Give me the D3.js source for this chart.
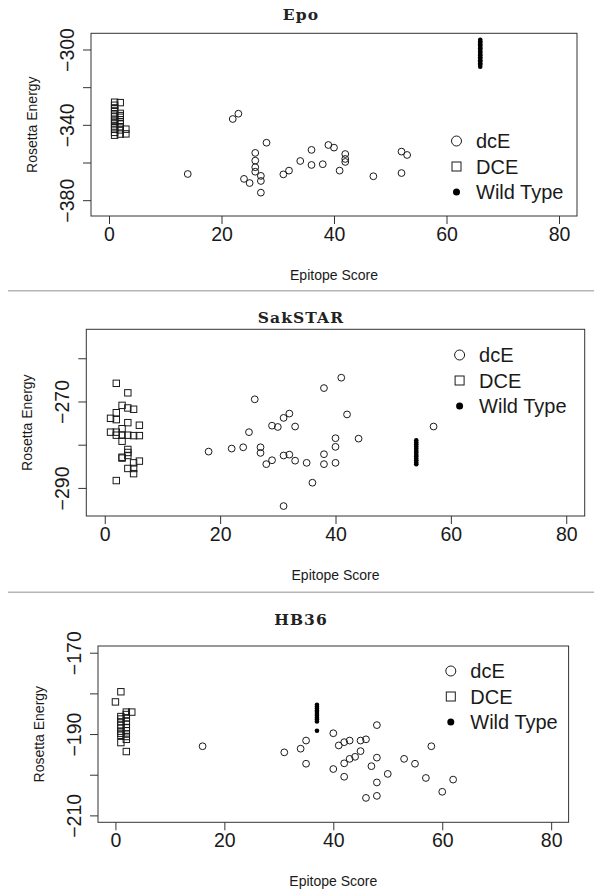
<!DOCTYPE html>
<html>
<head>
<meta charset="utf-8">
<script src="https://cdn.jsdelivr.net/npm/d3@7"></script>
<style>
  html, body { margin: 0; padding: 0; background: #fff; }
  svg { display: block; }
</style>
</head>
<body>
<svg id="chart" width="602" height="896"></svg>
<script>
// ---------------- DATA ----------------
const xTicks = [0, 20, 40, 60, 80];
const legendLabels = ["dcE", "DCE", "Wild Type"];

// Epo
const epoDcEx = [14,22,23,24,25,26,26,26,26,27,27,27,28,31,32,34,36,36,38,39,40,41,42,42,42,47,52,52,53];
const epoDcEy = [-366.1,-336.9,-334.1,-368.7,-370.9,-354.9,-359.0,-362.5,-364.9,-367.1,-369.8,-376.0,-349.5,-366.3,-364.3,-359.2,-353.3,-361.3,-360.9,-350.7,-352.1,-364.3,-355.5,-358.1,-359.7,-367.3,-354.2,-365.6,-356.0];
const epoDCEx = [1,1,1,1,1,1,1,1,1,1,1,1,1, 2,2,2,2,2,2,2,2,2, 3,3];
const epoDCEy = [-328.0,-329.6,-331.0,-332.4,-334.1,-335.4,-337.0,-338.1,-339.5,-341.1,-342.4,-344.0,-345.5, -328.2,-333.9,-335.1,-336.0,-338.3,-339.6,-341.0,-342.7,-344.9, -342.3,-344.8];
const epoWTx = [66,66,66,66,66,66,66,66,66,66,66,66,66,66,66,66,66,66,66];
const epoWTy = [-294.8,-295.7,-296.3,-297.2,-297.9,-298.7,-299.3,-300.2,-301.1,-301.7,-302.6,-303.2,-304.1,-304.8,-305.7,-306.3,-307.3,-308.0,-309.1];
const epoYTicks = [-300,-320,-340,-360,-380];
const epoYLabels = [-300,-340,-380];

// SakSTAR
const sakDcEx = [18,22,24,25,26,27,27,28,29,29,30,31,31,31,32,32,33,33,35,36,38,38,38,40,40,40,41,42,44,57];
const sakDcEy = [-281.6,-280.9,-280.6,-277.1,-269.5,-280.6,-281.9,-284.5,-275.6,-283.6,-275.9,-273.8,-282.5,-294.2,-272.8,-282.3,-275.8,-283.7,-284.2,-288.8,-266.9,-282.2,-284.5,-278.5,-280.5,-284.2,-264.5,-273.0,-278.6,-275.8];
const sakDCEx = [2,4,3,4,5,2,1,2,4,6,3,1,2,2,3,4,5,6,3,4,4,3,3,4,6,5,5,4,5,2];
const sakDCEy = [-265.8,-268.0,-270.9,-271.5,-271.8,-272.6,-273.9,-274.2,-274.9,-275.5,-276.3,-277.1,-277.1,-277.8,-277.8,-277.8,-277.9,-277.9,-279.2,-281.1,-281.8,-282.9,-283.1,-282.5,-283.8,-284.2,-285.5,-285.5,-286.7,-288.3];
const sakWTx = [54,54,54,54,54,54,54,54,54,54,54,54,54];
const sakWTy = [-279.0,-279.5,-279.9,-280.4,-280.9,-281.4,-281.8,-282.3,-282.7,-283.2,-283.6,-284.1,-284.5];
const sakYTicks = [-260,-270,-280,-290];
const sakYLabels = [-270,-290];

// HB36
const hbDcEx = [16,31,34,35,35,40,40,41,42,42,42,43,43,44,45,45,46,46,47,48,48,48,48,50,53,55,57,58,60,62];
const hbDcEy = [-193.0,-194.5,-193.6,-191.6,-197.3,-189.8,-198.6,-192.8,-192.0,-197.2,-200.5,-191.6,-196.1,-195.6,-191.6,-194.2,-191.3,-205.7,-197.9,-187.8,-195.8,-201.9,-205.2,-199.8,-196.1,-197.3,-200.8,-193.0,-204.2,-201.2];
const hbDCEx = [0, 1,1,1,1,1,1,1,1,1,1, 2,2,2,2,2,2,2,2,2,2,2, 3];
const hbDCEy = [-182.1, -179.6,-185.7,-186.3,-187.0,-187.8,-188.5,-189.3,-189.8,-190.3,-192.1, -184.6,-185.2,-186.0,-186.9,-187.6,-188.4,-189.2,-190.0,-190.6,-191.3,-194.3, -184.6];
const hbWTx = [37,37,37,37,37,37,37,37,37,37,37];
const hbWTy = [-182.8,-183.3,-183.7,-184.2,-184.6,-185.1,-185.5,-186.0,-186.4,-186.9,-189.2];
const hbYTicks = [-170,-180,-190,-200,-210];
const hbYLabels = [-170,-190,-210];

// ---------------- LAYOUT ----------------
const panels = [
  { title: "Epo", box: {l: 91, r: 577, t: 33.3, b: 216}, yDomain: [-388.4, -291.4],
    yTicks: epoYTicks, yLabels: epoYLabels,
    dcE: [epoDcEx, epoDcEy], DCE: [epoDCEx, epoDCEy], WT: [epoWTx, epoWTy],
    legend: {x: 456.5, y: 141}, titleY: 19.5, sepY: 290.7 },
  { title: "SakSTAR", box: {l: 86.3, r: 584.7, t: 329.3, b: 516}, yDomain: [-296.5, -253.3],
    yTicks: sakYTicks, yLabels: sakYLabels,
    dcE: [sakDcEx, sakDcEy], DCE: [sakDCEx, sakDCEy], WT: [sakWTx, sakWTy],
    legend: {x: 459.6, y: 355}, titleY: 323.3, sepY: 592.3 },
  { title: "HB36", box: {l: 98, r: 568.6, t: 646, b: 822.3}, yDomain: [-211.7, -168.35],
    yTicks: hbYTicks, yLabels: hbYLabels,
    dcE: [hbDcEx, hbDcEy], DCE: [hbDCEx, hbDCEy], WT: [hbWTx, hbWTy],
    legend: {x: 450.8, y: 671}, titleY: 625, sepY: null }
];

const svg = d3.select("#chart");
const sans = "'Liberation Sans', Arial, Helvetica, sans-serif";
const serif = "'DejaVu Serif', 'Liberation Serif', serif";
const ink = "#1a1a1a";
const minus = v => String(v).replace("-", "\u2212");

panels.forEach(p => {
  const g = svg.append("g");
  const x = d3.scaleLinear().domain([-3.2, 83.2]).range([p.box.l, p.box.r]);
  const y = d3.scaleLinear().domain(p.yDomain).range([p.box.b, p.box.t]);

  // title
  g.append("text").attr("x", 301).attr("y", p.titleY)
    .attr("text-anchor", "middle").attr("font-family", serif)
    .attr("font-weight", "bold").attr("font-size", 15.5).attr("letter-spacing", 1.1)
    .attr("fill", "#222")
    .text(p.title);

  // x axis
  const xAxis = g.append("g").attr("transform", `translate(0,${p.box.b})`)
    .call(d3.axisBottom(x).tickValues(xTicks).tickSize(8).tickPadding(3).tickFormat(d3.format("d")));
  xAxis.select(".domain").remove();
  xAxis.selectAll(".tick line").attr("stroke", "#333");
  xAxis.selectAll(".tick text").attr("font-family", sans).attr("font-size", 19.5).attr("fill", ink);

  // y axis
  const yAxis = g.append("g").attr("transform", `translate(${p.box.l},0)`)
    .call(d3.axisLeft(y).tickValues(p.yTicks).tickSize(8)
      .tickFormat(d => p.yLabels.includes(d) ? minus(d) : ""));
  yAxis.select(".domain").remove();
  yAxis.selectAll(".tick line").attr("stroke", "#333");
  yAxis.selectAll(".tick text")
    .attr("font-family", sans).attr("font-size", 19.5).attr("fill", ink)
    .attr("text-anchor", "middle").attr("dy", null).attr("x", null)
    .attr("transform", "translate(-17,0) rotate(-90)");

  // box
  g.append("rect").attr("x", p.box.l).attr("y", p.box.t)
    .attr("width", p.box.r - p.box.l).attr("height", p.box.b - p.box.t)
    .attr("fill", "none").attr("stroke", "#333").attr("stroke-width", 1);

  // axis titles
  g.append("text").attr("x", (p.box.l + p.box.r) / 2).attr("y", p.box.b + 64)
    .attr("text-anchor", "middle").attr("font-family", sans).attr("font-size", 14)
    .attr("fill", ink).text("Epitope Score");
  g.append("text")
    .attr("transform", `translate(${p.box.l - 54},${(p.box.t + p.box.b) / 2}) rotate(-90)`)
    .attr("text-anchor", "middle").attr("font-family", sans).attr("font-size", 14)
    .attr("fill", ink).text("Rosetta Energy");

  // DCE squares
  const sq = 6.4;
  g.append("g").selectAll("rect").data(d3.range(p.DCE[0].length)).join("rect")
    .attr("x", i => x(p.DCE[0][i]) - sq / 2).attr("y", i => y(p.DCE[1][i]) - sq / 2)
    .attr("width", sq).attr("height", sq)
    .attr("fill", "none").attr("stroke", ink).attr("stroke-width", 1);

  // dcE circles
  g.append("g").selectAll("circle").data(d3.range(p.dcE[0].length)).join("circle")
    .attr("cx", i => x(p.dcE[0][i])).attr("cy", i => y(p.dcE[1][i])).attr("r", 3.4)
    .attr("fill", "none").attr("stroke", ink).attr("stroke-width", 1);

  // Wild type
  g.append("g").selectAll("circle").data(d3.range(p.WT[0].length)).join("circle")
    .attr("cx", i => x(p.WT[0][i])).attr("cy", i => y(p.WT[1][i])).attr("r", 2.3)
    .attr("fill", "#000");

  // legend
  const lg = g.append("g").attr("transform", `translate(${p.legend.x},${p.legend.y})`);
  const rowH = 25.5;
  lg.append("circle").attr("cx", 0).attr("cy", 0).attr("r", 5)
    .attr("fill", "none").attr("stroke", ink).attr("stroke-width", 1);
  lg.append("rect").attr("x", -4.5).attr("y", rowH - 4.5).attr("width", 9).attr("height", 9)
    .attr("fill", "none").attr("stroke", ink).attr("stroke-width", 1);
  lg.append("circle").attr("cx", 0).attr("cy", 2 * rowH).attr("r", 3.5).attr("fill", "#000");
  legendLabels.forEach((t, i) => {
    lg.append("text").attr("x", 19.5).attr("y", i * rowH + 7)
      .attr("font-family", sans).attr("font-size", 20).attr("fill", ink).text(t);
  });

  // separator
  if (p.sepY !== null) {
    svg.append("line").attr("x1", 8).attr("x2", 594).attr("y1", p.sepY).attr("y2", p.sepY)
      .attr("stroke", "#b5b5b5").attr("stroke-width", 1.5);
  }
});
</script>
</body>
</html>
